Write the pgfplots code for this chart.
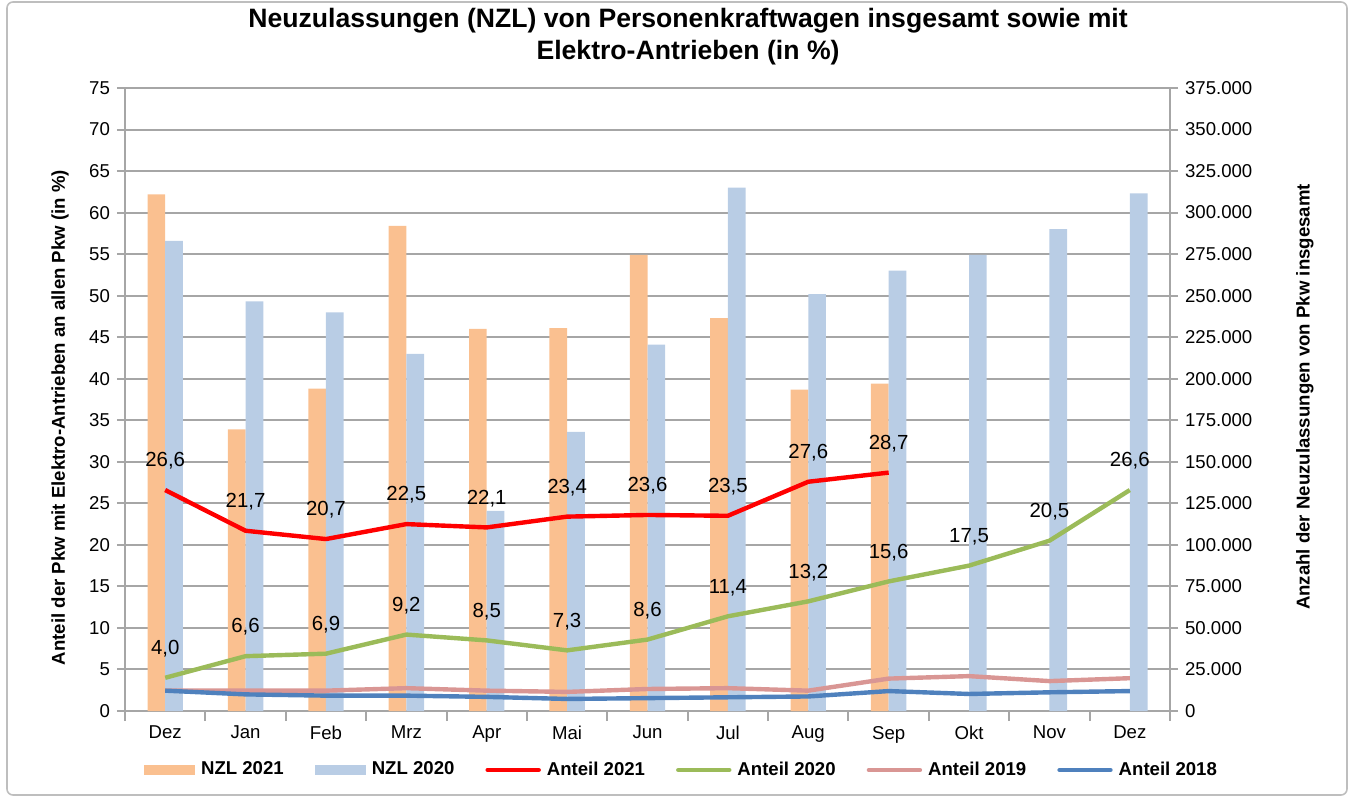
\documentclass[border=0pt]{standalone}
\usepackage{fontspec}
\setmainfont{Liberation Sans}
\usepackage{pgfplots}
\pgfplotsset{compat=1.18}
\definecolor{cOr}{RGB}{250,192,144}
\definecolor{cBl}{RGB}{185,205,229}
\definecolor{cRed}{RGB}{255,0,0}
\definecolor{cGr}{RGB}{155,187,89}
\definecolor{cPk}{RGB}{217,150,148}
\definecolor{cDb}{RGB}{79,129,189}
\definecolor{cGrid}{RGB}{166,166,166}
\definecolor{cFrame}{RGB}{190,190,190}
\begin{document}
\begin{tikzpicture}
% ---------- bars, right axis ----------
\begin{axis}[name=ax, at={(0,0)}, anchor=south west,
  scale only axis, width=522.5pt, height=311.5pt,
  xmin=-0.5, xmax=12.5, ymin=0, ymax=375000,
  axis x line*=bottom, axis y line*=right,
  axis line style={draw=cGrid, line width=1pt},
  ytick={0,25000,50000,75000,100000,125000,150000,175000,200000,225000,250000,275000,300000,325000,350000,375000},
  ymajorgrids, grid style={draw=cGrid, line width=1pt},
  scaled y ticks=false,
  /pgf/number format/fixed, /pgf/number format/1000 sep={.},
  /pgf/number format/assume math mode=true,
  xtick={0,...,12},
  xticklabels={Dez,Jan,Feb,Mrz,Apr,Mai,Jun,Jul,Aug,Sep,Okt,Nov,Dez},
  minor xtick={-0.5,0.5,1.5,2.5,3.5,4.5,5.5,6.5,7.5,8.5,9.5,10.5,11.5,12.5},
  major x tick style={draw=none},
  minor x tick style={draw=cGrid, line width=1pt},
  ytick style={draw=cGrid, line width=1pt},
  tick align=outside, major tick length=4pt, minor tick length=5pt,
  tick label style={font=\fontsize{9.3}{11}\selectfont},
  every axis y label/.style={at={(axis description cs:1.129,0.504)}, rotate=90, anchor=center,
    font=\bfseries\fontsize{9.3}{11}\selectfont},
  ylabel={Anzahl der Neuzulassungen von Pkw insgesamt},
]
\addplot[ybar, bar width=0.22, bar shift=-0.11, fill=cOr, draw=none] coordinates {
  (0,311000) (1,169500) (2,194000) (3,292000) (4,230000) (5,230500)
  (6,274500) (7,236500) (8,193500) (9,197000)};
\addplot[ybar, bar width=0.22, bar shift=0.11, fill=cBl, draw=none] coordinates {
  (0,283000) (1,246500) (2,240000) (3,215000) (4,120500) (5,168000)
  (6,220500) (7,315000) (8,251000) (9,265000) (10,274500) (11,290000) (12,311500)};
\end{axis}
% ---------- lines, left axis ----------
\begin{axis}[at={(ax.south west)}, anchor=south west,
  scale only axis, width=522.5pt, height=311.5pt,
  xmin=-0.5, xmax=12.5, ymin=0, ymax=75,
  axis x line=none, axis y line*=left,
  axis line style={draw=cGrid, line width=1pt},
  ytick={0,5,...,75},
  ytick style={draw=cGrid, line width=1pt},
  tick align=outside, major tick length=4pt,
  /pgf/number format/assume math mode=true,
  tick label style={font=\fontsize{9.3}{11}\selectfont},
  every axis y label/.style={at={(axis description cs:-0.0622,0.471)}, rotate=90, anchor=center,
    font=\bfseries\fontsize{9.3}{11}\selectfont},
  ylabel={Anteil der Pkw mit Elektro-Antrieben an allen Pkw (in \%)},
  title={Neuzulassungen (NZL) von Personenkraftwagen insgesamt sowie mit\\Elektro-Antrieben (in \%)},
  title style={at={(axis description cs:0.5388,1.0626)}, anchor=center, align=center,
    font=\bfseries\fontsize{13.3}{16}\selectfont},
  legend columns=6,
  legend style={at={(axis description cs:0.5335,-0.0947)}, anchor=center, draw=none, fill=none,
    font=\bfseries\fontsize{9.3}{11}\selectfont,
    /tikz/every odd column/.append style={column sep=1pt},
    /tikz/every even column/.append style={column sep=13.5pt}},
  lineleg/.style={legend image code/.code={\draw[##1, line cap=round] (0pt,0pt) -- (25.5pt,0pt);}},
  barleg/.style={legend image code/.code={\fill[##1] (0pt,-2.5pt) rectangle (25.5pt,2.5pt);}},
  lab/.style={nodes near coords={\pgfmathprintnumber[fixed,fixed zerofill,precision=1,use comma,assume math mode=true]{\pgfplotspointmeta}},
    every node near coord/.append style={anchor=center, yshift=14.5pt, text=black,
      font=\fontsize{10.2}{12}\selectfont}},
]
\addlegendimage{barleg, fill=cOr, draw=none}
\addlegendentry{NZL 2021}
\addlegendimage{barleg, fill=cBl, draw=none}
\addlegendentry{NZL 2020}
\addplot[cRed, line width=2.2pt, line join=round, mark=none, lineleg, lab] coordinates {
  (0,26.6) (1,21.7) (2,20.7) (3,22.5) (4,22.1) (5,23.4) (6,23.6) (7,23.5) (8,27.6) (9,28.7)};
\addlegendentry{Anteil 2021}
\addplot[cGr, line width=2.2pt, line join=round, mark=none, lineleg, lab] coordinates {
  (0,4.0) (1,6.6) (2,6.9) (3,9.2) (4,8.5) (5,7.3) (6,8.6) (7,11.4) (8,13.2) (9,15.6)
  (10,17.5) (11,20.5) (12,26.6)};
\addlegendentry{Anteil 2020}
\addplot[cPk, line width=2.2pt, line join=round, mark=none, lineleg] coordinates {
  (0,2.45) (1,2.45) (2,2.45) (3,2.75) (4,2.45) (5,2.3) (6,2.65) (7,2.75) (8,2.45) (9,3.9)
  (10,4.2) (11,3.6) (12,3.95)};
\addlegendentry{Anteil 2019}
\addplot[cDb, line width=2.2pt, line join=round, mark=none, lineleg] coordinates {
  (0,2.45) (1,2.0) (2,1.85) (3,1.85) (4,1.7) (5,1.45) (6,1.55) (7,1.65) (8,1.75) (9,2.4)
  (10,2.05) (11,2.25) (12,2.4)};
\addlegendentry{Anteil 2018}
\end{axis}
\draw[cFrame, line width=0.8pt, rounded corners=3pt]
  ([xshift=-59pt,yshift=-42pt]ax.south west) rectangle ([xshift=88.5pt,yshift=43pt]ax.north east);
\pgfresetboundingbox
\path ([xshift=-62.5pt,yshift=-43.5pt]ax.south west) rectangle ([xshift=91.5pt,yshift=44pt]ax.north east);
\end{tikzpicture}
\end{document}
